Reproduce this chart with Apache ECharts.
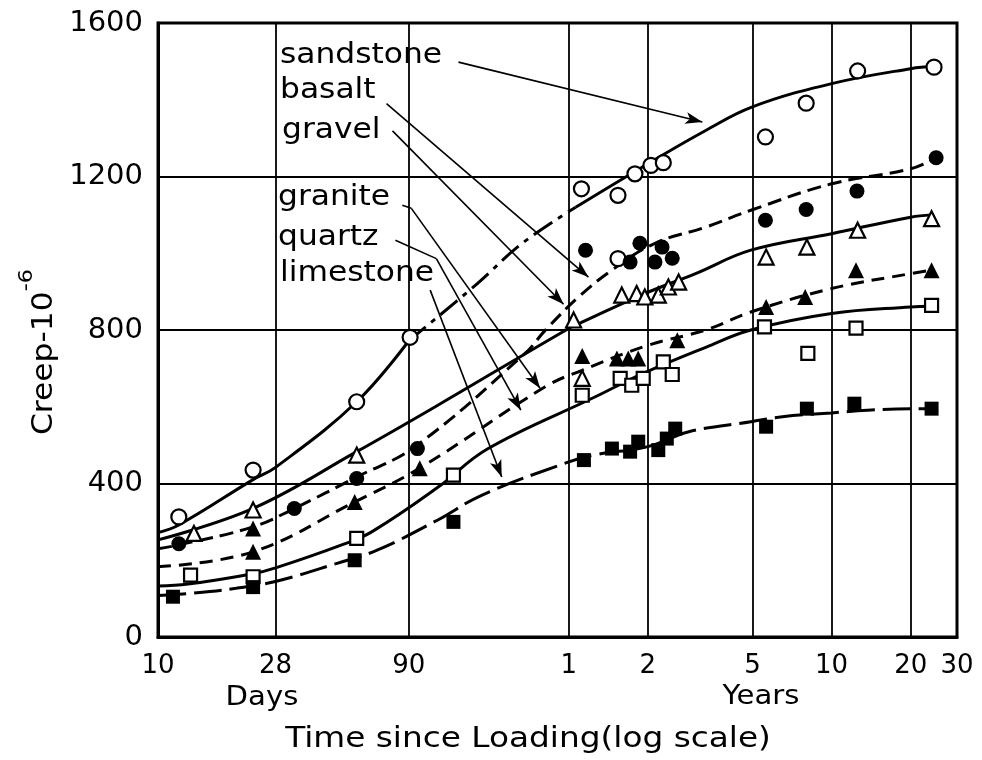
<!DOCTYPE html>
<html>
<head>
<meta charset="utf-8">
<title>Creep of concrete with different aggregates</title>
<script src="https://cdn.jsdelivr.net/npm/echarts@6/dist/echarts.min.js"></script>
<style>
  html, body { margin: 0; padding: 0; background: #fff; }
  #chart { width: 982px; height: 760px; }
</style>
</head>
<body>
<div id="chart"></div>
<script>
// Time axis: values in days since loading, labelled in days and years.
const tickDays   = [10, 28, 90, 365, 730, 1825, 3650, 7300, 10950];
const tickLabels = ['10', '28', '90', '1', '2', '5', '10', '20', '30'];
const yTicks = [0, 400, 800, 1200, 1600];

// Fitted curves (days, creep x 10^-6)
const sandstoneCurveDays = [10, 12, 23, 28, 57, 90, 164, 242, 388, 750, 1212, 1815, 3650, 7300, 8980];
const sandstoneCurve     = [272, 292, 410, 442, 613, 772, 921, 1025, 1120, 1238, 1320, 1381, 1442, 1481, 1487];
const sandstoneDashDotSpan = [90, 388];

const basaltCurveDays = [10, 12, 23, 33, 57, 95, 249, 297, 398, 533, 777, 1212, 1800, 3650, 7300, 9120];
const basaltCurve     = [230, 240, 287, 335, 417, 496, 739, 799, 886, 956, 1026, 1068, 1112, 1181, 1220, 1249];

const gravelCurveDays = [10, 23, 57, 116, 365, 412, 711, 1109, 1800, 3650, 7300, 8764];
const gravelCurve     = [253, 335, 483, 604, 804, 821, 895, 947, 1008, 1051, 1094, 1100];

const graniteCurveDays = [10, 23, 56, 99, 297, 410, 730, 1212, 1800, 3650, 7300, 8764];
const graniteCurve     = [183, 222, 352, 440, 652, 695, 760, 800, 847, 908, 947, 956];

const quartzCurveDays = [10, 13, 23, 28, 50, 65, 116, 179, 461, 701, 1212, 1800, 3650, 7300, 8764];
const quartzCurve     = [133, 138, 165, 180, 240, 274, 390, 490, 626, 687, 755, 800, 843, 860, 862];

const limestoneCurveDays = [10, 13.4, 19.8, 27.7, 48, 68.5, 116, 171, 361, 461, 730, 1045, 1800, 2373, 3650, 5000, 7300, 8764];
const limestoneCurve     = [108, 114, 127, 144, 192, 227, 305, 370, 455, 475, 496, 535, 561, 574, 584, 591, 595, 595];

// Measured points (days, creep x 10^-6)
const sandstoneDays = [12, 23, 57, 91, 408, 562, 562, 652, 750, 836, 2045, 2922, 4585, 8954];
const sandstone     = [313, 435, 613, 781, 1168, 1151, 986, 1207, 1229, 1236, 1303, 1391, 1475, 1485];

const basaltDays = [12, 33, 57, 97, 423, 625, 681, 777, 827, 904, 2045, 2922, 4560, 9120];
const basalt     = [243, 335, 413, 491, 1008, 977, 1026, 977, 1016, 987, 1086, 1114, 1162, 1249];

const gravelDays = [13.7, 23, 57, 381, 411, 581, 662, 711, 800, 874, 956, 2057, 2940, 4585, 8764];
const gravel     = [270, 331, 474, 826, 674, 891, 895, 886, 891, 912, 925, 990, 1016, 1060, 1090];

const graniteDays = [23, 23, 56, 99, 411, 557, 615, 671, 945, 2057, 2897, 4521, 8764];
const granite     = [222, 283, 352, 440, 732, 726, 726, 726, 773, 860, 886, 956, 956];

const quartzDays = [13.3, 23, 57, 133, 411, 573, 634, 701, 836, 904, 2028, 2965, 4521, 8764];
const quartz     = [161, 157, 257, 422, 630, 674, 656, 674, 717, 684, 808, 739, 805, 864];

const limestoneDays = [11.4, 23, 56, 133, 417, 533, 625, 671, 800, 862, 928, 2057, 2940, 4456, 8764];
const limestone     = [105, 130, 200, 300, 461, 491, 483, 509, 487, 517, 543, 548, 595, 608, 595];

// Leader lines from the material names to their curves: [days, creep] pairs
const leaderLines = [
  { from: [139, 1498],  to: [1177, 1342], arrow: true },   // sandstone
  { from: [74, 1390],   to: [434, 938],   arrow: true },   // basalt
  { from: [78, 1319],   to: [349, 867],   arrow: true },   // gravel
  { from: [85, 1125],   to: [92, 1117],   arrow: false },  // granite
  { from: [92, 1117],   to: [284, 648],   arrow: true },
  { from: [80, 1034],   to: [114.5, 986], arrow: false },  // quartz
  { from: [114.5, 986], to: [240, 591],   arrow: true },
  { from: [108.5, 904], to: [203, 417],   arrow: true }    // limestone
];
const materialNames = ['sandstone', 'basalt', 'gravel', 'granite', 'quartz', 'limestone'];

const FONT = '"DejaVu Sans", "Liberation Sans", sans-serif';

function pairs(xs, ys) { return xs.map((x, i) => [x, ys[i]]); }

function curve(name, days, vals, dash) {
  return {
    name: name, type: 'line', data: pairs(days, vals),
    smooth: 0.4, symbol: 'none', showSymbol: false,
    lineStyle: { color: '#000', width: 3, type: dash, cap: 'butt' },
    silent: true, z: 2
  };
}

function markers(name, days, vals, symbol, filled, size) {
  return {
    name: name, type: 'scatter', data: pairs(days, vals),
    symbol: symbol, symbolSize: size,
    itemStyle: { color: filled ? '#000' : '#fff', borderColor: '#000', borderWidth: filled ? 0 : 2.2, opacity: 1 },
    silent: true, z: 5
  };
}

// sandstone curve: solid, dash-dot over the middle span, solid again
const sdPts = pairs(sandstoneCurveDays, sandstoneCurve);
const sdA = sdPts.filter(p => p[0] <= sandstoneDashDotSpan[0]);
const sdB = sdPts.filter(p => p[0] >= sandstoneDashDotSpan[0] && p[0] <= sandstoneDashDotSpan[1]);
const sdC = sdPts.filter(p => p[0] >= sandstoneDashDotSpan[1]);
function seg(pts, dash) {
  return curve('sandstone', pts.map(p => p[0]), pts.map(p => p[1]), dash);
}

const sandstoneMarks = markers('sandstone', sandstoneDays, sandstone, 'circle', false, 15);
sandstoneMarks.markLine = {
  silent: true, animation: false,
  symbol: ['none', 'none'],
  label: { show: false },
  lineStyle: { color: '#000', width: 1.6, type: 'solid' },
  emphasis: { disabled: true },
  data: leaderLines.map(l => [
    { coord: l.from, symbol: 'none' },
    { coord: l.to, symbol: l.arrow ? 'arrow' : 'none', symbolSize: [9, 17] }
  ])
};

const labelY = [55, 90, 130, 197, 237, 273];
const labelX = [280, 280, 282, 278, 278, 280];

const chart = echarts.init(document.getElementById('chart'), null, { renderer: 'canvas' });
chart.setOption({
  animation: false,
  backgroundColor: '#fff',
  grid: { left: 158, right: 25, top: 23, bottom: 123, show: true, borderColor: '#000', borderWidth: 3 },
  xAxis: {
    type: 'log', logBase: 10, min: tickDays[0], max: tickDays[tickDays.length - 1],
    axisLine: { show: true, lineStyle: { color: '#000', width: 3 } },
    axisTick: { show: false, customValues: tickDays },
    axisLabel: {
      customValues: tickDays, color: '#000', fontSize: 26, fontFamily: FONT, margin: 16,
      formatter: function (v) {
        const i = tickDays.findIndex(d => Math.abs(d - v) / d < 0.01);
        return i >= 0 ? tickLabels[i] : '';
      }
    },
    splitLine: { show: true, lineStyle: { color: '#000', width: 1.8 } },
    minorTick: { show: false }, minorSplitLine: { show: false }
  },
  yAxis: {
    type: 'value', min: yTicks[0], max: yTicks[yTicks.length - 1], interval: 400,
    axisLine: { show: true, lineStyle: { color: '#000', width: 3 } },
    axisTick: { show: false },
    axisLabel: { color: '#000', fontSize: 29, fontFamily: FONT, margin: 15, formatter: v => String(v) },
    splitLine: { show: true, lineStyle: { color: '#000', width: 1.8 } }
  },
  graphic: [
    {
      type: 'text', x: 38, y: 352, rotation: Math.PI / 2, scaleX: 1.12, silent: true,
      style: {
        text: '{m|Creep-10}{s|-6}',
        align: 'center', verticalAlign: 'middle', fill: '#000',
        rich: {
          m: { fontSize: 28, fontFamily: FONT, lineHeight: 42, verticalAlign: 'bottom' },
          s: { fontSize: 20, fontFamily: FONT, lineHeight: 20, verticalAlign: 'top' }
        }
      }
    },
    { type: 'text', x: 262, y: 698, scaleX: 1.08, silent: true,
      style: { text: 'Days', font: '27px ' + FONT, align: 'center', verticalAlign: 'middle', fill: '#000' } },
    { type: 'text', x: 761, y: 697, scaleX: 1.08, silent: true,
      style: { text: 'Years', font: '27px ' + FONT, align: 'center', verticalAlign: 'middle', fill: '#000' } },
    { type: 'text', x: 528, y: 740, scaleX: 1.17, silent: true,
      style: { text: 'Time since Loading(log scale)', font: '28px ' + FONT, align: 'center', verticalAlign: 'middle', fill: '#000' } }
  ].concat(materialNames.map((n, i) => ({
    type: 'text', x: labelX[i], y: labelY[i], scaleX: 1.08, silent: true,
    style: { text: n, font: '29px ' + FONT, align: 'left', verticalAlign: 'middle', fill: '#000' }
  }))),
  series: [
    seg(sdA, 'solid'),
    seg(sdB, [22, 7, 5, 7]),
    seg(sdC, 'solid'),
    curve('basalt', basaltCurveDays, basaltCurve, [14, 7]),
    curve('gravel', gravelCurveDays, gravelCurve, 'solid'),
    curve('granite', graniteCurveDays, graniteCurve, [13, 8]),
    curve('quartz', quartzCurveDays, quartzCurve, 'solid'),
    curve('limestone', limestoneCurveDays, limestoneCurve, [28, 8]),
    sandstoneMarks,
    markers('basalt', basaltDays, basalt, 'circle', true, 15),
    markers('gravel', gravelDays, gravel, 'triangle', false, 15),
    markers('granite', graniteDays, granite, 'triangle', true, 16),
    markers('quartz', quartzDays, quartz, 'rect', false, 13),
    markers('limestone', limestoneDays, limestone, 'rect', true, 14)
  ]
});
</script>
</body>
</html>
